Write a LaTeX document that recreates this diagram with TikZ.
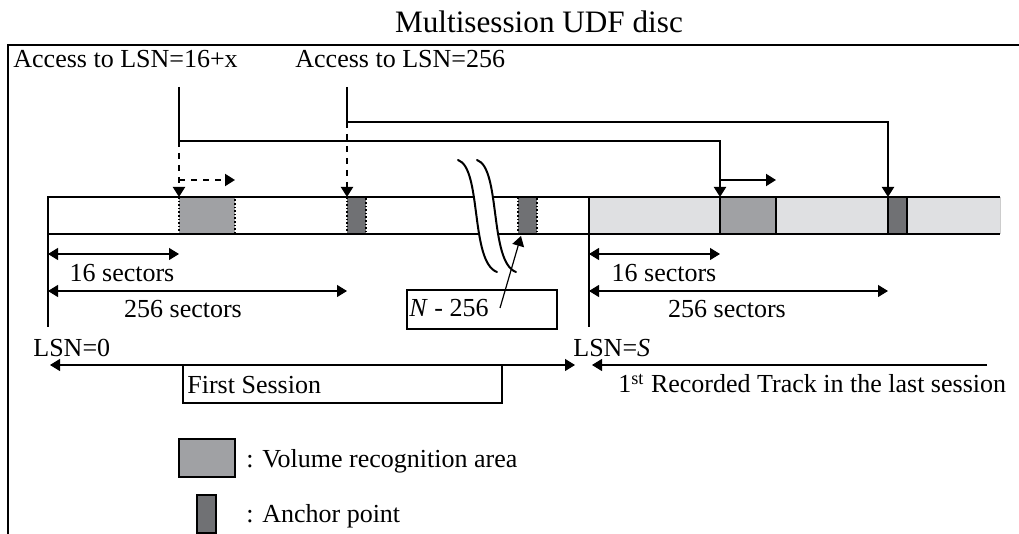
\documentclass[tikz,border=0pt]{standalone}
\usepackage{fontspec}
\setmainfont{Liberation Serif}
\usepackage{xcolor}
\usepackage{tikz}
\usetikzlibrary{arrows.meta}

\definecolor{trackgray}{HTML}{DFE0E2}
\definecolor{vrsgray}{HTML}{A0A1A4}
\definecolor{anchorgray}{HTML}{707174}

\tikzset{
	lbl/.style={font=\fontsize{13}{15}\selectfont, inner sep=0pt},
	tip/.style={-{Triangle[length=5pt,width=6pt]}},
	dimline/.style={{Triangle[length=5pt,width=6pt]}-{Triangle[length=5pt,width=6pt]}, line width=0.6pt},
	heavy/.style={line width=1pt},
	vrsblock/.style={fill=vrsgray},
	anchorblock/.style={fill=anchorgray}
}

\begin{document}
\begin{tikzpicture}[x=0.5pt,y=-0.5pt]

\useasboundingbox (0,0) rectangle (1019,534);

\node[lbl, font=\fontsize{15.6}{18}\selectfont, anchor=base] (title) at (539,33) {Multisession UDF disc};
\draw[heavy] (8,534) -- (8,45) -- (1019,45);

\node[lbl, anchor=base west] (acc1) at (13,68) {Access to LSN=16+x};
\node[lbl, anchor=base west] (acc2) at (295,68) {Access to LSN=256};

\fill[trackgray] (589,197) rectangle (1000,234);
\draw[line width=0.4pt, gray!40] (1000,197) -- (1000,234);

\draw[densely dotted, line width=0.8pt, vrsblock] (179,197) rectangle (235,234);
\draw[densely dotted, line width=0.8pt, anchorblock] (347,197) rectangle (366,234);
\draw[densely dotted, line width=0.8pt, anchorblock] (518,197) rectangle (537,234);
\draw[heavy, vrsblock] (720,197) rectangle (776,234);
\draw[heavy, anchorblock] (888,197) rectangle (907,234);

\coordinate (bar0) at (48,197);
\coordinate (barS) at (589,197);
\coordinate (lsn0) at (48,327);
\coordinate (lsnS) at (589,327);
\draw[heavy] (1000,197) -- (bar0) -- (lsn0);
\draw[heavy] (48,234) -- (1000,234);
\draw[heavy] (barS) -- (lsnS);

\fill[white] (458,160) .. controls (482,168) and (470,262) .. (497,272) -- (516,272) .. controls (489,262) and (501,168) .. (477,160) -- cycle;
\foreach \s in {0,19}{
	\draw[heavy, line cap=round] (458+\s,160) .. controls (482+\s,168) and (470+\s,262) .. (497+\s,272);
}

\coordinate (a1) at (179,87);
\coordinate (a1k) at (179,141);
\coordinate (a2) at (347,87);
\coordinate (a2k) at (347,122);
\coordinate (vrs1) at (179,197);
\coordinate (anc1) at (347,197);
\coordinate (vrs2) at (720,197);
\coordinate (anc2) at (888,197);

\draw[heavy, tip] (a1) -- (a1k) -| (vrs2);
\draw[heavy, tip] (a2) -- (a2k) -| (anc2);
\draw[heavy, dashed, tip] (a1k) -- (vrs1);
\draw[heavy, dashed, tip] (a2k) -- (anc1);
\draw[heavy, dashed, tip] (179,180) -- (235,180);
\draw[heavy, tip] (720,180) -- (776,180);

\foreach \o in {48,589}{
	\draw[dimline] (\o,254) -- +(131,0);
	\draw[dimline] (\o,291) -- +(299,0);
}

\node[lbl, anchor=base] (s16a) at (122,282) {16 sectors};
\node[lbl, anchor=base] (s256a) at (183,318) {256 sectors};
\node[lbl, anchor=base] (s16b) at (664,282) {16 sectors};
\node[lbl, anchor=base] (s256b) at (727,318) {256 sectors};

\node[draw, line width=0.6pt, minimum width=75pt, minimum height=19.5pt, inner sep=0pt] (nbox) at (482,309.5) {};
\node[lbl, anchor=base west] (ntxt) at (409,317) {\textit{N} - 256};
\draw[line width=0.6pt, tip] (500,308) -- (521,236);

\node[lbl, anchor=base west] (l0) at (33,357) {LSN=0};
\node[lbl, anchor=base west] (lS) at (573,357) {LSN=\textit{S}};

\draw[dimline] (50,365) -- (575,365);
\draw[line width=0.6pt, tip] (987,365) -- (592,365);
\node[draw, line width=0.6pt, minimum width=159.5pt, minimum height=19pt, inner sep=0pt] (fsbox) at (342.5,384) {};
\node[lbl, anchor=base west] (fs) at (187,394) {First Session};
\node[lbl, anchor=base west] (ls) at (618,393) {1\textsuperscript{st} Recorded Track in the last session};

\draw[heavy, vrsblock] (179,439) rectangle (235,477);
\node[lbl, anchor=base west] (kvrs) at (246,468) {: Volume recognition area};
\draw[heavy, anchorblock] (197,495) rectangle (216,533);
\node[lbl, anchor=base west] (kanc) at (246,523) {: Anchor point};

\end{tikzpicture}
\end{document}
